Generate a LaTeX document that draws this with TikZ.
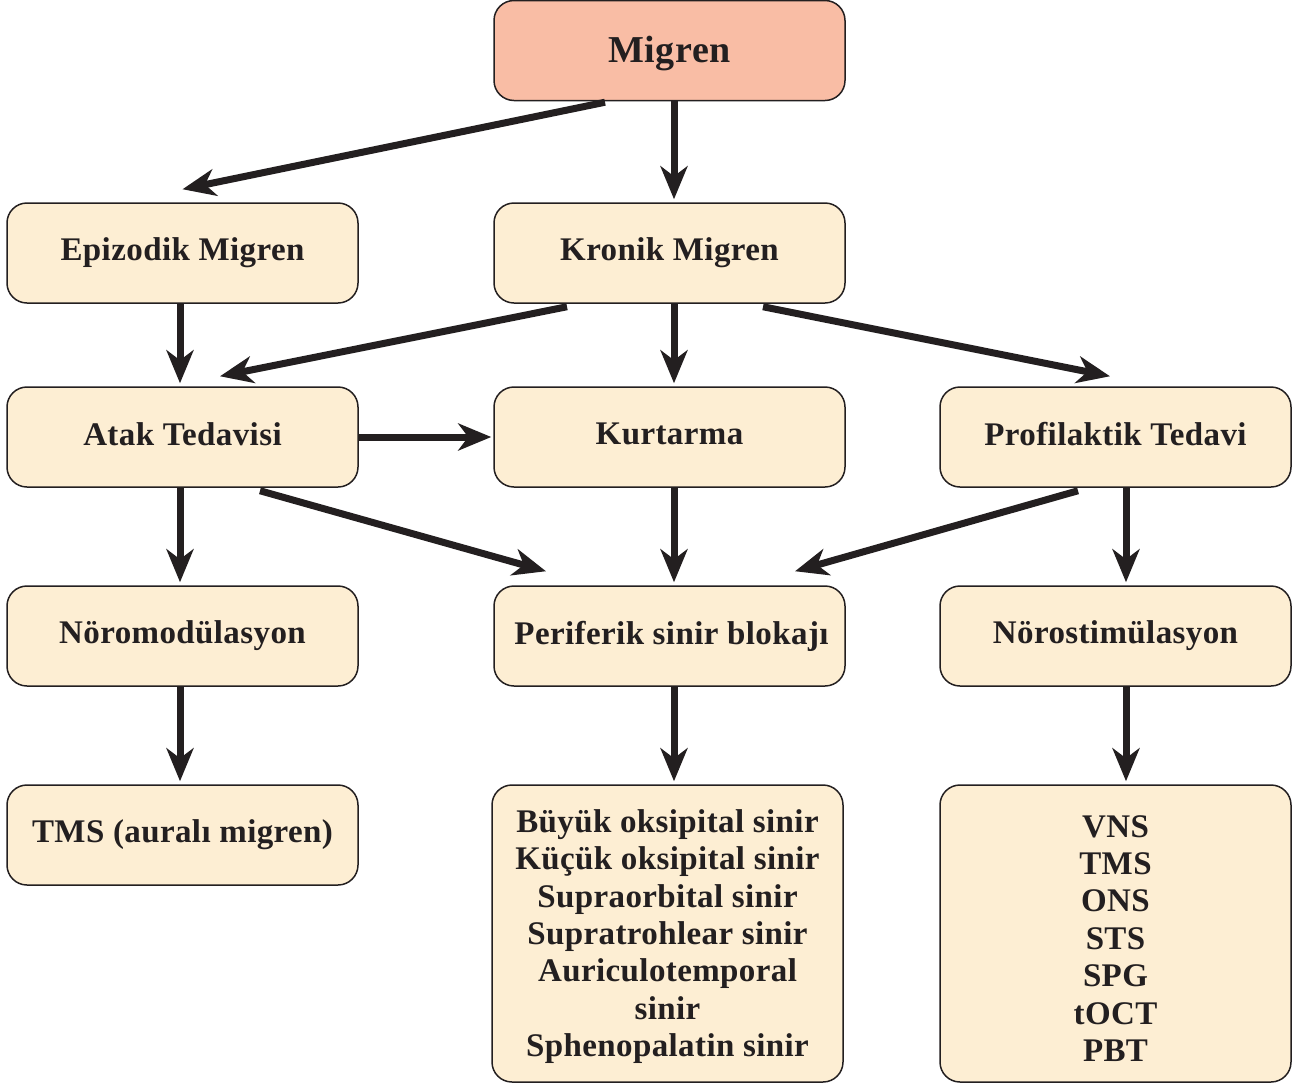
\documentclass[tikz,border=0pt]{standalone}
\usepackage{fontspec}
\setmainfont{Liberation Serif}[LetterSpace=1.2]
\usetikzlibrary{arrows.meta}
\definecolor{ink}{HTML}{231F20}
\definecolor{boxfill}{HTML}{FDEED3}
\definecolor{topfill}{HTML}{F9BDA5}
% shift text vertically while keeping its measured size for centring
\newcommand{\up}[2]{\raisebox{#1pt}[\height][\depth]{#2}}
\begin{document}
\begin{tikzpicture}[x=1pt,y=-1pt,
  box/.style={draw=ink, line width=1.5pt, rounded corners=20pt, fill=boxfill,
    minimum width=351pt, minimum height=100pt, inner sep=0pt, text=ink,
    align=center, font=\fontsize{33}{37.4}\selectfont\bfseries},
  topbox/.style={box, fill=topfill, font=\fontsize{38}{44}\selectfont\bfseries},
  listbox/.style={box, minimum height=297pt},
  arr/.style={draw=ink, line width=7pt,
    -{Stealth[length=33pt, width=27pt, inset=10pt]}}]
\useasboundingbox (0,0) rectangle (1301,1085);

% boxes
\node[topbox] (mig) at (669.5,50.5) {\up{-3}{Migren}};
\node[box] (epi) at (182.5,253) {Epizodik Migren};
\node[box] (kron) at (669.5,253) {Kronik Migren};
\node[box] (atak) at (182.5,437) {\up{3}{Atak Tedavisi}};
\node[box] (kurt) at (669.5,437) {\up{3}{Kurtarma}};
\node[box] (prof) at (1115.5,437) {\up{3}{Profilaktik Tedavi}};
\node[box] (nmod) at (182.5,636) {Nöromodülasyon};
\node[box] (peri) at (669.5,636) {\up{0}{\hspace{4pt}Periferik sinir blokajı}};
\node[box] (nstim) at (1115.5,636) {Nörostimülasyon};
\node[box] (tms) at (182.5,835) {TMS (auralı migren)};
\node[listbox] (plist) at (667.5,933.5) {\up{-3}{\parbox{330pt}{\centering Büyük oksipital sinir\\Küçük oksipital sinir\\Supraorbital sinir\\Supratrohlear sinir\\Auriculotemporal\\sinir\\Sphenopalatin sinir}}};
\node[listbox] (slist) at (1115.5,933.5) {\up{-5}{\parbox{4cm}{\centering VNS\\TMS\\ONS\\STS\\SPG\\tOCT\\PBT}}};

% connectors
\draw[arr] ([xshift=-64.5,yshift=-1]mig.south) -- ([yshift=13]epi.north);
\draw[arr] ([xshift=4.5]mig.south) -- ([xshift=4.5,yshift=3]kron.north);
\draw[arr] ([xshift=-2.5]epi.south) -- ([xshift=-2.5,yshift=3]atak.north);
\draw[arr] ([xshift=-102.5,yshift=-3]kron.south) -- ([xshift=37.5,yshift=10]atak.north);
\draw[arr] ([xshift=4.5]kron.south) -- ([xshift=4.5,yshift=3]kurt.north);
\draw[arr] ([xshift=93.5,yshift=-3]kron.south) -- ([xshift=-5.5,yshift=10]prof.north);
\draw[arr] (atak.east) -- ([xshift=-2]kurt.west);
\draw[arr] ([xshift=-2.5]atak.south) -- ([xshift=-2.5,yshift=3]nmod.north);
\draw[arr] ([xshift=77.5,yshift=-3]atak.south) -- ([xshift=-123.5,yshift=14]peri.north);
\draw[arr] ([xshift=4.5]kurt.south) -- ([xshift=4.5,yshift=3]peri.north);
\draw[arr] ([xshift=-37.5,yshift=-3]prof.south) -- ([xshift=125.5,yshift=14]peri.north);
\draw[arr] ([xshift=10.5]prof.south) -- ([xshift=10.5,yshift=3]nstim.north);
\draw[arr] ([xshift=-2.5]nmod.south) -- ([xshift=-2.5,yshift=3]tms.north);
\draw[arr] ([xshift=4.5]peri.south) -- ([xshift=6.5,yshift=3]plist.north);
\draw[arr] ([xshift=10.5]nstim.south) -- ([xshift=10.5,yshift=3]slist.north);
\end{tikzpicture}
\end{document}
